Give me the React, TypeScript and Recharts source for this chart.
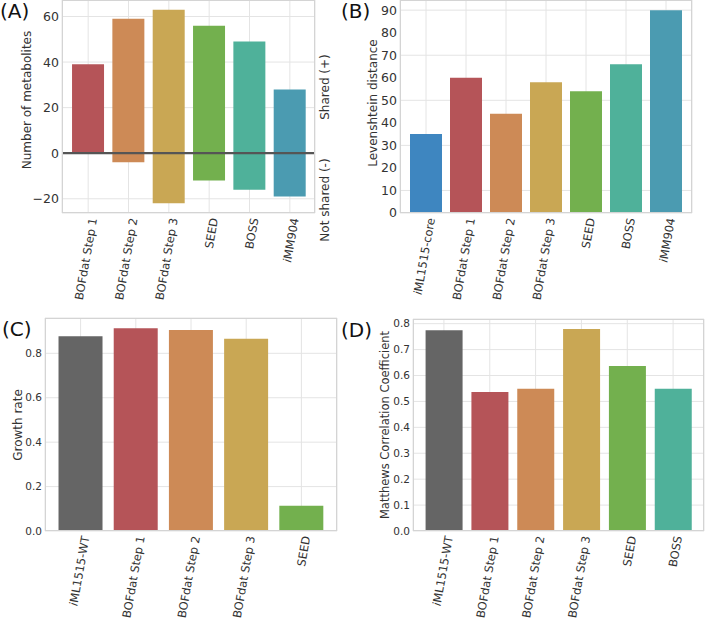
import React from "react";
import {
  BarChart,
  Bar,
  Cell,
  XAxis,
  YAxis,
  CartesianGrid,
  ReferenceLine,
} from "recharts";

// panel A: shared / not shared metabolites
const namesA = ["BOFdat Step 1", "BOFdat Step 2", "BOFdat Step 3", "SEED", "BOSS", "iMM904"];
const sharedA = [39, 59, 63, 56, 49, 28];
const notSharedA = [0, -4, -22, -12, -16, -19];
const ticksA = [-20, 0, 20, 40, 60];

// panel B: Levenshtein distance
const namesB = ["iML1515-core", "BOFdat Step 1", "BOFdat Step 2", "BOFdat Step 3", "SEED", "BOSS", "iMM904"];
const distB = [35, 60, 44, 58, 54, 66, 90];
const ticksB = [0, 10, 20, 30, 40, 50, 60, 70, 80, 90];

// panel C: growth rate
const namesC = ["iML1515-WT", "BOFdat Step 1", "BOFdat Step 2", "BOFdat Step 3", "SEED"];
const growthC = [0.877, 0.913, 0.905, 0.866, 0.114];
const ticksC = [0, 0.2, 0.4, 0.6, 0.8];

// panel D: Matthews correlation coefficient
const namesD = ["iML1515-WT", "BOFdat Step 1", "BOFdat Step 2", "BOFdat Step 3", "SEED", "BOSS"];
const mccD = [0.775, 0.536, 0.549, 0.779, 0.637, 0.549];
const ticksD = [0, 0.1, 0.2, 0.3, 0.4, 0.5, 0.6, 0.7, 0.8];

const colors: Record<string, string> = {
  "iML1515-WT": "#656565",
  "iML1515-core": "#3e86c0",
  "BOFdat Step 1": "#b55458",
  "BOFdat Step 2": "#cd8a56",
  "BOFdat Step 3": "#c9a754",
  SEED: "#73b04e",
  BOSS: "#4fb19a",
  iMM904: "#4b9bb1",
};

const FONT = "DejaVu Sans";
const TEXT = "#333";
const GRID = "#e4e4e4";
const FRAME = "#d4d4d4";

const dataA = namesA.map((name, i) => ({ name, shared: sharedA[i], notShared: notSharedA[i] }));
const dataB = namesB.map((name, i) => ({ name, value: distB[i] }));
const dataC = namesC.map((name, i) => ({ name, value: growthC[i] }));
const dataD = namesD.map((name, i) => ({ name, value: mccD[i] }));

function SlantTick(props: any) {
  const { x, y, payload } = props;
  const v = String(payload.value);
  const ax = x + 5;
  const ay = y + 5;
  return (
    <text
      x={ax}
      y={ay}
      transform={`rotate(-80 ${ax} ${ay})`}
      textAnchor="end"
      dominantBaseline="central"
      fontSize={11.5}
      fill={TEXT}
      fontFamily={FONT}
    >
      {v.startsWith("i") ? (
        <>
          <tspan fontStyle="italic">i</tspan>
          {v.slice(1)}
        </>
      ) : (
        v
      )}
    </text>
  );
}

type Box = { left: number; top: number; width: number; height: number };
type Plot = { x0: number; y0: number; x1: number; y1: number };

// outer box of each chart and its plot rectangle, in page pixels
const boxA: Box = { left: 0, top: 0, width: 350, height: 310 };
const plotA: Plot = { x0: 62, y0: 0, x1: 315, y1: 213 };
const boxB: Box = { left: 350, top: 0, width: 355, height: 310 };
const plotB: Plot = { x0: 400, y0: 0, x1: 692, y1: 213 };
const boxC: Box = { left: 0, top: 310, width: 350, height: 312 };
const plotC: Plot = { x0: 45, y0: 318, x1: 337, y1: 531 };
const boxD: Box = { left: 350, top: 310, width: 355, height: 312 };
const plotD: Plot = { x0: 413, y0: 319, x1: 704, y1: 531 };

function layout(box: Box, plot: Plot) {
  return {
    margin: {
      top: plot.y0 - box.top,
      right: box.left + box.width - plot.x1,
      left: 0,
      bottom: 0,
    },
    yWidth: plot.x0 - box.left,
    xHeight: box.top + box.height - plot.y1,
  };
}

const pos = (b: Box): React.CSSProperties => ({
  position: "absolute",
  left: b.left,
  top: b.top,
  width: b.width,
  height: b.height,
});

const yTick = (size: number) => ({ fontSize: size, fill: TEXT, fontFamily: FONT });

function PanelA() {
  const l = layout(boxA, plotA);
  return (
    <div style={pos(boxA)}>
      <BarChart
        width={boxA.width}
        height={boxA.height}
        data={dataA}
        margin={l.margin}
        stackOffset="sign"
        barCategoryGap="10%"
      >
        <CartesianGrid stroke={GRID} />
        <XAxis
          dataKey="name"
          interval={0}
          height={l.xHeight}
          tick={<SlantTick />}
          tickLine={false}
          axisLine={false}
          tickSize={0}
          tickMargin={0}
          padding={{ left: 6, right: 5 }}
        />
        <YAxis
          width={l.yWidth}
          type="number"
          domain={[-26.25, 67.25]}
          ticks={ticksA}
          tickFormatter={(v: number) => (v < 0 ? `\u2212${-v}` : `${v}`)}
          tick={yTick(12.5)}
          tickLine={false}
          axisLine={false}
          tickSize={0}
          tickMargin={3}
          allowDataOverflow
        />
        <Bar dataKey="shared" stackId="a" isAnimationActive={false}>
          {dataA.map((d) => (
            <Cell key={d.name} fill={colors[d.name]} />
          ))}
        </Bar>
        <Bar dataKey="notShared" stackId="a" isAnimationActive={false}>
          {dataA.map((d) => (
            <Cell key={d.name} fill={colors[d.name]} />
          ))}
        </Bar>
        <ReferenceLine y={0} stroke="#555" strokeWidth={2.2} />
      </BarChart>
    </div>
  );
}

function SimplePanel({
  box,
  plot,
  data,
  domain,
  ticks,
  digits,
  tickSize,
  pad,
}: {
  box: Box;
  plot: Plot;
  data: { name: string; value: number }[];
  domain: [number, number];
  ticks: number[];
  digits: number;
  tickSize: number;
  pad: number;
}) {
  const l = layout(box, plot);
  return (
    <div style={pos(box)}>
      <BarChart width={box.width} height={box.height} data={data} margin={l.margin} barCategoryGap="10%">
        <CartesianGrid stroke={GRID} />
        <XAxis
          dataKey="name"
          interval={0}
          height={l.xHeight}
          tick={<SlantTick />}
          tickLine={false}
          axisLine={false}
          tickSize={0}
          tickMargin={0}
          padding={{ left: pad, right: pad }}
        />
        <YAxis
          width={l.yWidth}
          type="number"
          domain={domain}
          ticks={ticks}
          tickFormatter={(v: number) => v.toFixed(digits)}
          tick={yTick(tickSize)}
          tickLine={false}
          axisLine={false}
          tickSize={0}
          tickMargin={3}
          allowDataOverflow
        />
        <Bar dataKey="value" isAnimationActive={false}>
          {data.map((d) => (
            <Cell key={d.name} fill={colors[d.name]} />
          ))}
        </Bar>
      </BarChart>
    </div>
  );
}

function Frame({ p }: { p: Plot }) {
  return (
    <rect
      x={p.x0 + 0.5}
      y={p.y0 + 0.5}
      width={p.x1 - p.x0 - 1}
      height={p.y1 - p.y0 - 1}
      fill="none"
      stroke={FRAME}
      strokeWidth={1}
    />
  );
}

function VText({ x, y, size, children }: { x: number; y: number; size: number; children: React.ReactNode }) {
  return (
    <text
      x={x}
      y={y}
      transform={`rotate(-90 ${x} ${y})`}
      textAnchor="middle"
      dominantBaseline="central"
      fontSize={size}
      fill={TEXT}
      fontFamily={FONT}
    >
      {children}
    </text>
  );
}

const letter = { fontSize: 20, fill: "#111", fontFamily: FONT } as const;

export default function App() {
  return (
    <div
      style={{
        position: "absolute",
        left: 0,
        top: 0,
        width: 705,
        height: 622,
        background: "#fff",
        overflow: "hidden",
      }}
    >
      <PanelA />
      <SimplePanel box={boxB} plot={plotB} data={dataB} domain={[0, 94.5]} ticks={ticksB} digits={0} tickSize={12.5} pad={6} />
      <SimplePanel box={boxC} plot={plotC} data={dataC} domain={[0, 0.959]} ticks={ticksC} digits={1} tickSize={10.5} pad={8} />
      <SimplePanel box={boxD} plot={plotD} data={dataD} domain={[0, 0.818]} ticks={ticksD} digits={1} tickSize={10.5} pad={8} />
      <svg
        width={705}
        height={622}
        style={{ position: "absolute", left: 0, top: 0, pointerEvents: "none" }}
      >
        <Frame p={plotA} />
        <Frame p={plotB} />
        <Frame p={plotC} />
        <Frame p={plotD} />
        <VText x={27} y={100} size={12}>Number of metabolites</VText>
        <VText x={325} y={87} size={12}>Shared (+)</VText>
        <VText x={325} y={200} size={12}>Not shared (-)</VText>
        <VText x={373} y={103} size={12}>Levenshtein distance</VText>
        <VText x={18} y={425} size={12}>Growth rate</VText>
        <VText x={385} y={425} size={11.5}>Matthews Correlation Coefficient</VText>
        <text x={0} y={17.5} {...letter}>(A)</text>
        <text x={341} y={17.5} {...letter}>(B)</text>
        <text x={2} y={335.5} {...letter}>(C)</text>
        <text x={341} y={337} {...letter}>(D)</text>
      </svg>
    </div>
  );
}
